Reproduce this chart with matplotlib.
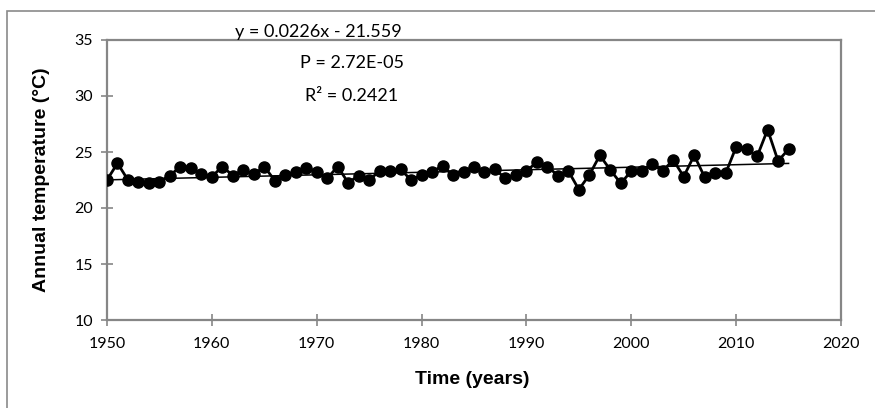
import matplotlib
matplotlib.use("Agg")
import matplotlib.pyplot as plt
from matplotlib.patches import Rectangle

# Annual mean temperature series
years = list(range(1950, 2016))
temps = [
    22.5, 24.0, 22.5, 22.35, 22.25, 22.35, 22.9, 23.7, 23.6, 23.0,
    22.8, 23.7, 22.9, 23.4, 23.0, 23.7, 22.45, 22.95, 23.25, 23.6,
    23.25, 22.65, 23.7, 22.25, 22.9, 22.5, 23.3, 23.3, 23.45, 22.5,
    22.95, 23.25, 23.75, 22.95, 23.25, 23.7, 23.25, 23.45, 22.65, 22.95,
    23.3, 24.1, 23.7, 22.9, 23.3, 21.65, 22.95, 24.7, 23.4, 22.2,
    23.3, 23.3, 23.9, 23.3, 24.3, 22.8, 24.7, 22.75, 23.15, 23.1,
    25.45, 25.25, 24.6, 27.0, 24.2, 25.25,
]

# Linear trend coefficients and statistics
slope = 0.0226
intercept = -21.559
p_value_text = "2.72E-05"
r2 = 0.2421

xticks = [1950, 1960, 1970, 1980, 1990, 2000, 2010, 2020]
yticks = [10, 15, 20, 25, 30, 35]

W, H = 875, 408
fig = plt.figure(figsize=(W / 100, H / 100), dpi=100)

# outer chart border
fig.patches.append(Rectangle((7 / W, -0.1), 1.2, 1 - 11 / H + 0.1,
                             transform=fig.transFigure, fill=False,
                             edgecolor="#8a8a8a", linewidth=1.2))

ax = fig.add_axes([107 / W, 1 - 320 / H, (841 - 107) / W, (320 - 40) / H])

gray = "#868686"
for s in ax.spines.values():
    s.set_color(gray)
    s.set_linewidth(1.6)

ax.plot(years, temps, color="black", linewidth=2.0, marker="o",
        markersize=8, markerfacecolor="black", markeredgecolor="black",
        zorder=3)

trend_x = [years[0], years[-1]]
trend_y = [slope * x + intercept for x in trend_x]
ax.plot(trend_x, trend_y, color="black", linewidth=1.1, zorder=2)

ax.set_xlim(1950, 2020)
ax.set_ylim(10, 35)
ax.set_xticks(xticks)
ax.set_yticks(yticks)

tick_font = dict(family=["Lato", "DejaVu Sans"], size=11.5)
ax.set_xticklabels([str(v) for v in xticks], **tick_font)
ax.set_yticklabels([str(v) for v in yticks], **tick_font)
ax.tick_params(axis="both", direction="inout", length=8, width=1.2,
               color=gray, pad=6)
ax.tick_params(axis="x", pad=8)

label_font = dict(family="Liberation Sans", weight="bold", size=14)
ax.set_xlabel("Time (years)", **label_font)
ax.set_ylabel("Annual temperature (°C)", **label_font)
ax.xaxis.set_label_coords(0.497, -0.183)
ax.yaxis.set_label_coords(-0.077, 0.5)

ann_font = dict(family=["Lato", "DejaVu Sans"], size=13, ha="center",
                va="center")
fig.text(318 / W, 1 - 32 / H, f"y = {slope}x - {abs(intercept)}", **ann_font)
fig.text(352 / W, 1 - 63 / H, f"P = {p_value_text}", **ann_font)
fig.text(352 / W, 1 - 96 / H, f"R² = {r2}", **ann_font)

fig.savefig("out.png", dpi=100)
